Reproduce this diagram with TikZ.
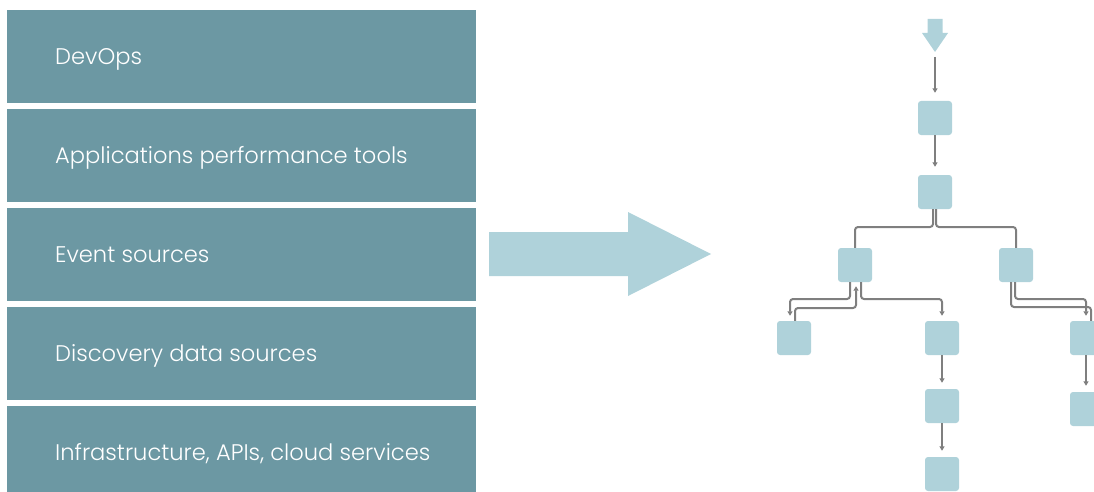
\documentclass[tikz,border=0pt]{standalone}
\usepackage{fontspec}
\setmainfont{Poppins Light}
\usetikzlibrary{arrows.meta}
\definecolor{layerfill}{HTML}{6C98A3}
\definecolor{nodefill}{HTML}{AFD2DA}
\definecolor{linkgray}{HTML}{7F7F7F}
\tikzset{
  layer/.style={fill=layerfill, draw=none, minimum width=469pt, minimum height=92.5pt, inner sep=0pt},
  layertext/.style={text=white, font=\fontsize{22.6}{26}\selectfont, anchor=base west, inner sep=0pt},
  tnode/.style={fill=nodefill, draw=none, rounded corners=3pt, minimum width=34pt, minimum height=34pt, inner sep=0pt},
  link/.style={draw=linkgray, line width=2pt, rounded corners=3pt},
  arr/.style={link, -{Triangle[length=4.5pt,width=5pt]}},
}
\begin{document}
\begin{tikzpicture}[x=1pt,y=-1pt]
\useasboundingbox (0,0) rectangle (1094,492);
\begin{scope}
\clip (0,0) rectangle (1094,492);

% stacked source layers
\foreach \i/\t/\y in {1/DevOps/10, 2/Applications performance tools/109, 3/Event sources/208, 4/Discovery data sources/307, 5/{Infrastructure, APIs, cloud services}/406} {
  \node[layer, anchor=north west] (layer\i) at (7,\y) {};
  \node[layertext] (label\i) at ([xshift=48pt,yshift=-8.5pt]layer\i.west) {\t};
}

% big arrow
\fill[nodefill] (489,232) -- (628,232) -- (628,212) -- (711,254) -- (628,296) -- (628,276) -- (489,276) -- cycle;

% small input arrow
\fill[nodefill] (927.5,19) -- (942.5,19) -- (942.5,33) -- (948,33) -- (935,52) -- (922,33) -- (927.5,33) -- cycle;
\coordinate (in) at (935,57);

% tree nodes
\node[tnode] (n1) at (935,118) {};
\node[tnode] (n2) at (935,192) {};
\node[tnode] (nL) at (855,265) {};
\node[tnode] (nR) at (1016,265) {};
\node[tnode] (nLL) at (794,338) {};
\node[tnode] (nM1) at (942,338) {};
\node[tnode] (nM2) at (942,406) {};
\node[tnode] (nM3) at (942,474) {};
\node[tnode] (nRR) at (1087,338) {};
\node[tnode] (nRR2) at (1087,409) {};

% connectors
\draw[arr, shorten >=8pt] (in) -- (n1.north);
\draw[arr, shorten >=8pt] (n1.south) -- (n2.north);

\draw[link] ([xshift=-2pt]n2.south) |- (855,227) -- (nL.north);
\draw[link] ([xshift=1pt]n2.south) |- (1016,227) -- (nR.north);

\draw[arr, shorten >=5pt] ([xshift=-5pt]nL.south) |- (790,299) -- ([xshift=-4pt]nLL.north);
\draw[arr, shorten >=4pt] ([xshift=1pt]nLL.north) |- (856,308) -- ([xshift=1pt]nL.south);
\draw[arr, shorten >=5pt] ([xshift=6pt]nL.south) |- (942,299) -- (nM1.north);

\draw[arr, shorten >=5pt] ([xshift=-1pt]nR.south) |- (1086,299) -- ([xshift=-1pt]nRR.north);
\draw[link] ([xshift=-5pt]nR.south) |- (1091,307) -- ([xshift=4pt]nRR.north);

\draw[arr, shorten >=6pt] (nM1.south) -- (nM2.north);
\draw[arr, shorten >=6pt] (nM2.south) -- (nM3.north);
\draw[arr, shorten >=6pt] ([xshift=-1pt]nRR.south) -- ([xshift=-1pt]nRR2.north);
\end{scope}
\end{tikzpicture}
\end{document}
